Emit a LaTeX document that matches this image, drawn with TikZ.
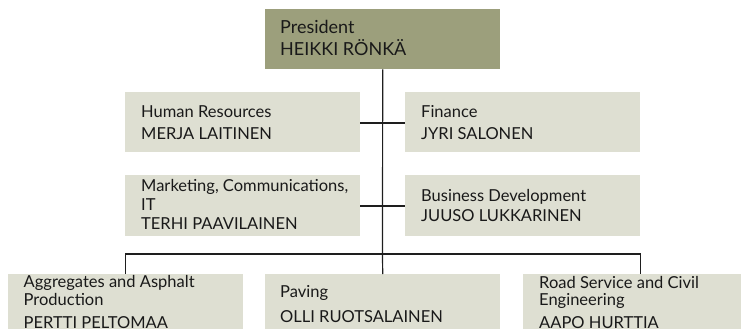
\documentclass[tikz,border=0pt]{standalone}
\usepackage{fontspec}
\setmainfont{Lato}
\definecolor{presfill}{RGB}{156,159,124}
\definecolor{boxfill}{RGB}{222,223,210}
\definecolor{linecol}{RGB}{30,30,30}
\begin{document}
\begin{tikzpicture}[x=1pt,y=-1pt,
  orgbox/.style={fill=boxfill, draw=none, minimum width=235pt, inner sep=0pt, anchor=north west},
  presbox/.style={orgbox, fill=presfill},
  txt/.style={anchor=base west, inner sep=0pt, font=\fontsize{16.5}{18}\selectfont, text=black!90},
  ptxt/.style={txt, font=\fontsize{18}{20}\selectfont},
  conn/.style={draw=linecol, line width=1.2pt}]
\clip (0,0) rectangle (741,329);
\useasboundingbox (0,0) rectangle (741,329);
% boxes
\node[presbox, minimum height=60pt] (pres) at (265,9) {};
\node[orgbox, minimum height=60pt] (hr) at (125,92) {};
\node[orgbox, minimum height=60pt] (fin) at (405,92) {};
\node[orgbox, minimum height=61pt] (mkt) at (125,175) {};
\node[orgbox, minimum height=61pt] (bd) at (405,175) {};
\node[orgbox, minimum height=70pt] (agg) at (8,274) {};
\node[orgbox, minimum height=70pt] (pav) at (265,274) {};
\node[orgbox, minimum height=70pt] (road) at (523,274) {};
% connectors
\coordinate (hub) at (382.5,254);
\coordinate (hrj) at (382.5,123);
\coordinate (mkj) at (382.5,206);
\draw[conn] (pres.south) -- (hub);
\draw[conn] (hr.east |- hrj) -- (fin.west |- hrj);
\draw[conn] (mkt.east |- mkj) -- (bd.west |- mkj);
\draw[conn] (agg.north) |- (hub) -| (road.north);
\draw[conn] (hub) -- (pav.north);
% texts
\node[ptxt] (t1) at (280,34) {President};
\node[ptxt] (t2) at (280,56) {HEIKKI RÖNKÄ};
\node[txt] (t3) at (141,117.7) {Human Resources};
\node[txt] (t4) at (141,139.3) {MERJA LAITINEN};
\node[txt] (t5) at (421,117.7) {Finance};
\node[txt] (t6) at (421,139.3) {JYRI SALONEN};
\node[txt] (t7) at (141,191.5) {Marketing, Communications,};
\node[txt] (t8) at (141,210) {IT};
\node[txt] (t9) at (141,229) {TERHI PAAVILAINEN};
\node[txt] (t10) at (421,201.7) {Business Development};
\node[txt] (t11) at (421,221.7) {JUUSO LUKKARINEN};
\node[txt] (t12) at (23.5,287.7) {Aggregates and Asphalt};
\node[txt] (t13) at (23.5,305.7) {Production};
\node[txt] (t14) at (23.5,328.5) {PERTTI PELTOMAA};
\node[txt] (t15) at (280,297.5) {Paving};
\node[txt] (t16) at (280,322.3) {OLLI RUOTSALAINEN};
\node[txt] (t17) at (539,288) {Road Service and Civil};
\node[txt] (t18) at (539,305.7) {Engineering};
\node[txt] (t19) at (539,328.5) {AAPO HURTTIA};
\end{tikzpicture}
\end{document}
